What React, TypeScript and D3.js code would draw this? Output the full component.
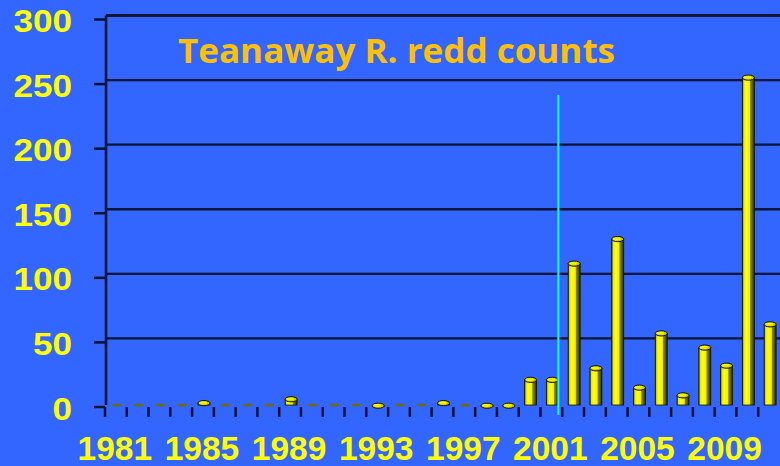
import React from "react";
import * as d3 from "d3";

// Teanaway River redd counts by year
const years: number[] = d3.range(1981, 2012);
const redds: number[] = [
  0, 0, 0, 0, 3, 0, 0, 0, 6, 0, 0, 0, 1, 0, 0, 3,
  0, 1, 1, 21, 21, 111, 30, 130, 15, 57, 9, 46, 32, 255, 64,
];
const yTicks: number[] = [0, 50, 100, 150, 200, 250, 300];
const xLabelYears: number[] = [1981, 1985, 1989, 1993, 1997, 2001, 2005, 2009];
const titleText = "Teanaway R. redd counts";
const markerAfterYear = 2001;

const W = 780;
const H = 466;
const BG = "#3366ff";
const AXIS_DARK = "#0b1233";
const LABEL_YELLOW = "#ffff00";

export default function App() {
  const x = d3
    .scaleBand<number>()
    .domain(years)
    .range([105, 780])
    .paddingInner(0)
    .paddingOuter(0);
  const y = d3.scaleLinear().domain([0, 300]).range([407, 19.5]);
  const step = x.step();
  const depth = 4; // back-wall offset of the 3D frame
  const floorY = y(0) - 2;
  const barW = 12;
  const capRy = 2.6;

  return (
    <div
      style={{
        position: "fixed",
        left: 0,
        top: 0,
        width: W,
        height: H,
        overflow: "hidden",
      }}
    >
      <svg width={W} height={H} style={{ display: "block" }}>
        <defs>
          <linearGradient id="barFace" x1="0" x2="1" y1="0" y2="0">
            <stop offset="0" stopColor="#3a3a00" />
            <stop offset="0.12" stopColor="#e6e600" />
            <stop offset="0.3" stopColor="#ffff10" />
            <stop offset="0.6" stopColor="#f2f200" />
            <stop offset="0.68" stopColor="#8a8a00" />
            <stop offset="0.9" stopColor="#4a4a00" />
            <stop offset="1" stopColor="#1a1a00" />
          </linearGradient>
          <filter id="soft" x="-5%" y="-50%" width="110%" height="200%">
            <feGaussianBlur stdDeviation="0.7" />
          </filter>
        </defs>
        <rect width={W} height={H} fill={BG} />

        {/* back wall gridlines */}
        <g filter="url(#soft)">
          {yTicks.slice(1).map((v) => (
            <line
              key={`g${v}`}
              x1={x.range()[0] + 1}
              x2={W}
              y1={y(v) - depth}
              y2={y(v) - depth}
              stroke={AXIS_DARK}
              strokeWidth={v === 300 ? 3 : 2.4}
            />
          ))}
          <line
            x1={x.range()[0] + 1}
            x2={x.range()[0] + 1}
            y1={y(300) - depth}
            y2={floorY}
            stroke={AXIS_DARK}
            strokeWidth={2.5}
          />
        </g>

        {/* title */}
        <text
          x={178}
          y={63}
          fontFamily="'Open Sans', 'Noto Sans', sans-serif"
          fontWeight={700}
          fontSize={34}
          fill="#ffc000"
          textLength={437}
          lengthAdjust="spacingAndGlyphs"
        >
          {titleText}
        </text>

        {/* floor */}
        <line
          x1={x.range()[0]}
          x2={W}
          y1={floorY + 0.5}
          y2={floorY + 0.5}
          stroke={AXIS_DARK}
          strokeWidth={3.5}
          filter="url(#soft)"
        />

        {/* bars as cylinders */}
        {years.map((yr, i) => {
          const v = redds[i];
          const cx = (x(yr) as number) + step / 2 + 1;
          const top = y(v);
          if (v <= 0) {
            return (
              <ellipse
                key={yr}
                cx={cx}
                cy={floorY}
                rx={barW / 2 - 1}
                ry={1.6}
                fill="#6f6a10"
              />
            );
          }
          const h = Math.max(floorY - top, 0.5);
          return (
            <g key={yr}>
              <rect
                x={cx - barW / 2}
                y={top}
                width={barW}
                height={h}
                fill="url(#barFace)"
                stroke="#141400"
                strokeWidth={0.8}
              />
              <ellipse
                cx={cx}
                cy={top}
                rx={barW / 2}
                ry={capRy}
                fill="#c8c800"
                stroke="#141400"
                strokeWidth={1}
              />
              <ellipse
                cx={cx - 0.8}
                cy={top - 0.2}
                rx={barW / 2 - 2}
                ry={capRy - 1.2}
                fill="#f4f400"
              />
            </g>
          );
        })}

        {/* front left axis */}
        <line
          x1={x.range()[0]}
          x2={x.range()[0]}
          y1={y(300) - depth + 1}
          y2={y(0)}
          stroke={AXIS_DARK}
          strokeWidth={4}
          filter="url(#soft)"
        />

        {/* y ticks and labels */}
        {yTicks.map((v) => (
          <g key={`y${v}`}>
            <line
              x1={94}
              x2={x.range()[0]}
              y1={y(v)}
              y2={y(v)}
              stroke={AXIS_DARK}
              strokeWidth={2.5}
            />
            <text
              x={72}
              y={y(v) + 12.5}
              textAnchor="end"
              fontFamily="'Liberation Sans', Arial, sans-serif"
              fontWeight={700}
              fontSize={31}
              fill={LABEL_YELLOW}
              textLength={String(v).length * 19.5}
              lengthAdjust="spacingAndGlyphs"
            >
              {v}
            </text>
          </g>
        ))}

        {/* x ticks at category boundaries */}
        {years.map((yr) => (
          <line
            key={`xt${yr}`}
            x1={x(yr) as number}
            x2={x(yr) as number}
            y1={y(0)}
            y2={y(0) + 10}
            stroke={AXIS_DARK}
            strokeWidth={2.5}
          />
        ))}

        {/* x labels */}
        {xLabelYears.map((yr) => (
          <text
            key={`xl${yr}`}
            x={(x(yr) as number) + step / 2 - 1}
            y={460}
            textAnchor="middle"
            fontFamily="'Liberation Sans', Arial, sans-serif"
            fontWeight={700}
            fontSize={33.5}
            fill={LABEL_YELLOW}
          >
            {yr}
          </text>
        ))}

        {/* marker line after the 2001 season */}
        <line
          x1={(x(markerAfterYear) as number) + step * 0.82}
          x2={(x(markerAfterYear) as number) + step * 0.82}
          y1={95}
          y2={415}
          stroke="#00ffff"
          strokeWidth={2}
        />
      </svg>
    </div>
  );
}
